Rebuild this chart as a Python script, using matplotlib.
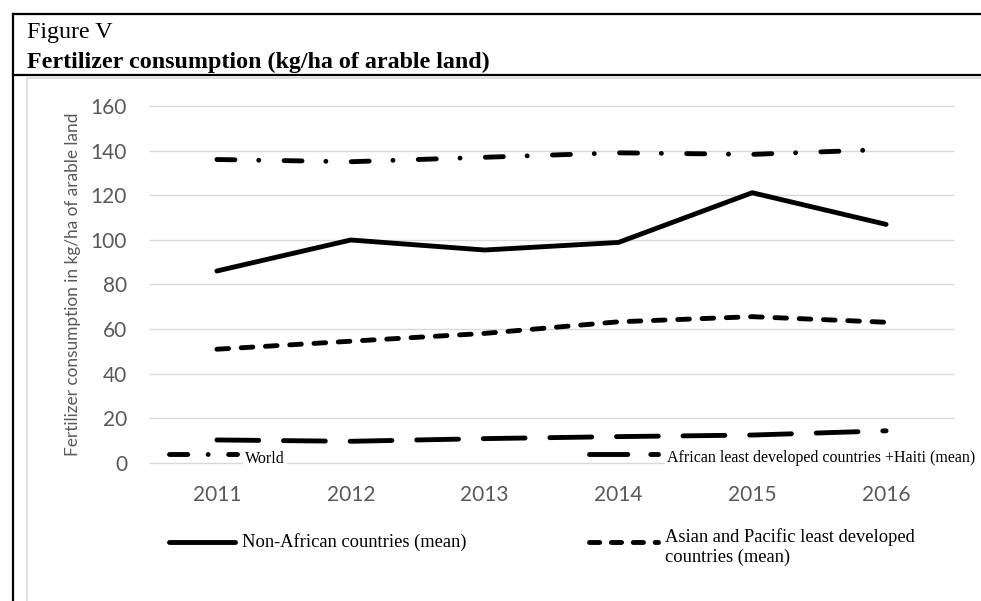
import matplotlib.pyplot as plt
from matplotlib.lines import Line2D

years = ['2011', '2012', '2013', '2014', '2015', '2016']
world = [136, 135, 137, 139, 138.3, 140.5]
non_african = [86, 99.9, 95.4, 98.8, 121.1, 106.9]
asian_ldc = [50.9, 54.5, 58.0, 63.2, 65.5, 63.0]
african_ldc = [10.2, 9.6, 10.8, 11.7, 12.4, 14.3]

W, H = 981, 601
fig = plt.figure(figsize=(W / 100, H / 100), dpi=100)

def fx(px):
    return px / W

def fy(py):
    return 1 - py / H

ax = fig.add_axes([fx(150), fy(462.7), fx(953) - fx(150), fy(106) - fy(462.7)])

lw = 3.5
x = list(range(len(years)))
common = dict(color='black', linewidth=lw, dash_capstyle='round',
              solid_capstyle='round', solid_joinstyle='round')

ax.plot(x, world, dashes=(3.7, 4.9, 0.01, 5.2), **common)
ax.plot(x, non_african, linestyle='-', **common)
ax.plot(x, asian_ldc, dashes=(2.4, 2.6), **common)
ax.plot(x, african_ldc, dashes=(8.6, 5.1), **common)

ax.set_xlim(-0.5, 5.5)
ax.set_ylim(0, 160)
ax.set_yticks(range(0, 161, 20))
ax.set_xticks(x)
ax.set_xticklabels(years)
ax.grid(axis='y', color='#d9d9d9', linewidth=1.0)
ax.set_axisbelow(True)
for gl in ax.get_ygridlines():
    gl.set_clip_on(False)
for s in ax.spines.values():
    s.set_visible(False)
ax.tick_params(axis='both', length=0, labelsize=15, labelcolor='#595959')
ax.tick_params(axis='y', pad=16.5)
ax.tick_params(axis='x', pad=16)
for lab in ax.get_xticklabels() + ax.get_yticklabels():
    lab.set_fontfamily('Lato')

ax.set_ylabel('Fertilizer consumption in kg/ha of arable land', fontsize=12.4,
              color='#595959', fontfamily='Lato')
ax.yaxis.set_label_coords((81 - 150) / 803, 0.5)

# frame lines
def fline(x0, x1, y0, y1, **kw):
    fig.add_artist(Line2D([fx(x0), fx(x1)], [fy(y0), fy(y1)],
                          transform=fig.transFigure, **kw))

fline(13, 981, 14, 14, color='black', linewidth=1.6)
fline(13, 13, 14, 601, color='black', linewidth=1.6)
fline(13, 981, 75, 75, color='black', linewidth=1.6)
fline(27, 981, 77.5, 77.5, color='#d9d9d9', linewidth=1.1)
fline(27, 27, 77.5, 601, color='#d9d9d9', linewidth=1.1)

serif = 'Liberation Serif'
fig.text(fx(27), fy(38), 'Figure V', fontsize=17.3, family=serif, va='baseline')
fig.text(fx(27), fy(68), 'Fertilizer consumption (kg/ha of arable land)',
         fontsize=17.3, family=serif, weight='bold', va='baseline')

# legend entries, placed like the original
leg = dict(color='black', linewidth=lw, dash_capstyle='round', solid_capstyle='round')
fline(169.4, 236.6, 454, 454, dashes=(3.75, 4.2, 0.01, 4.2), **leg)
fig.text(fx(245), fy(463), 'World', fontsize=11.5, family=serif, va='baseline',
         bbox=dict(facecolor='white', edgecolor='none', pad=1.5))

fline(589.4, 657.6, 454, 454, dashes=(7.9, 4.7), **leg)
fig.text(fx(667), fy(462), 'African least developed countries +Haiti (mean)',
         fontsize=11.5, family=serif, va='baseline',
         bbox=dict(facecolor='white', edgecolor='none', pad=1.5))

fline(169.4, 234.6, 542, 542, linestyle='-', **leg)
fig.text(fx(242), fy(547), 'Non-African countries (mean)', fontsize=13.3,
         family=serif, va='baseline')

fline(589.4, 657.6, 542, 542, dashes=(2.1, 2.4), **leg)
fig.text(fx(665), fy(562), 'Asian and Pacific least developed\ncountries (mean)',
         fontsize=13.3, family=serif, va='baseline', linespacing=1.2)

fig.savefig('out.png', dpi=100, facecolor='white')
